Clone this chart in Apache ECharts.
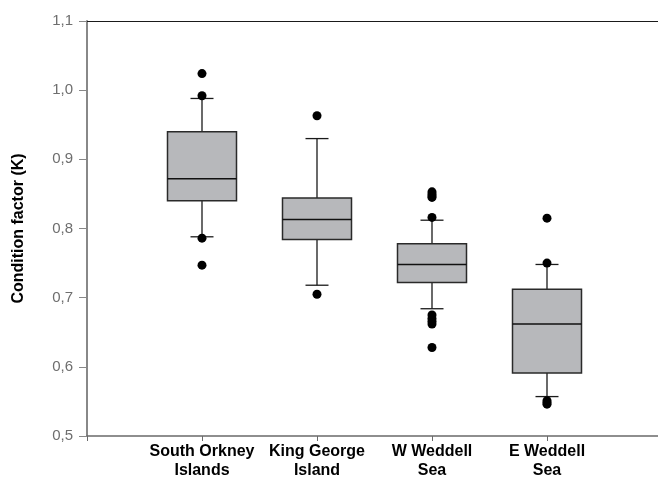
<!DOCTYPE html>
<html>
<head>
<meta charset="utf-8">
<script src="https://cdn.jsdelivr.net/npm/echarts@6/dist/echarts.min.js"></script>
<style>
  html, body { margin: 0; padding: 0; background: #fff; }
  #chart { width: 658px; height: 480px; }
</style>
</head>
<body>
<div id="chart"></div>
<script>
// Sampling regions (positions 1..4 on the x axis)
const categories = ['South Orkney\nIslands', 'King George\nIsland', 'W Weddell\nSea', 'E Weddell\nSea'];

// Box plot statistics of condition factor K per region
const whiskerLow  = [0.788, 0.718, 0.684, 0.557];
const quartile1   = [0.840, 0.784, 0.722, 0.591];
const medians     = [0.872, 0.813, 0.748, 0.662];
const quartile3   = [0.940, 0.844, 0.778, 0.712];
const whiskerHigh = [0.988, 0.930, 0.812, 0.748];

// Individual outlying fish
const outliersSouthOrkney = [1.024, 0.992, 0.786, 0.747];
const outliersKingGeorge  = [0.963, 0.705];
const outliersWWeddell    = [0.853, 0.850, 0.847, 0.845, 0.816, 0.675, 0.670, 0.666, 0.662, 0.628];
const outliersEWeddell    = [0.815, 0.750, 0.551, 0.548, 0.546];

// Y axis ticks
const yTicks = [0.5, 0.6, 0.7, 0.8, 0.9, 1.0, 1.1];

const outlierGroups = [outliersSouthOrkney, outliersKingGeorge, outliersWWeddell, outliersEWeddell];

const boxData = categories.map((c, i) => [i + 1, whiskerLow[i], quartile1[i], medians[i], quartile3[i], whiskerHigh[i]]);
const outlierData = [];
outlierGroups.forEach((g, i) => g.forEach(v => outlierData.push([i + 1, v])));

const BOX_W = 69;
const CAP_W = 23;
const LINE = '#1a1a1a';

function renderBox(params, api) {
  const x = api.value(0);
  const pLow = api.coord([x, api.value(1)]);
  const pQ1 = api.coord([x, api.value(2)]);
  const pMed = api.coord([x, api.value(3)]);
  const pQ3 = api.coord([x, api.value(4)]);
  const pHigh = api.coord([x, api.value(5)]);
  const cx = pQ1[0];
  const lineStyle = { stroke: LINE, lineWidth: 1.3 };
  return {
    type: 'group',
    children: [
      { type: 'line', shape: { x1: cx, y1: pQ3[1], x2: cx, y2: pHigh[1] }, style: lineStyle },
      { type: 'line', shape: { x1: cx, y1: pQ1[1], x2: cx, y2: pLow[1] }, style: lineStyle },
      { type: 'line', shape: { x1: cx - CAP_W / 2, y1: pHigh[1], x2: cx + CAP_W / 2, y2: pHigh[1] }, style: lineStyle },
      { type: 'line', shape: { x1: cx - CAP_W / 2, y1: pLow[1], x2: cx + CAP_W / 2, y2: pLow[1] }, style: lineStyle },
      {
        type: 'rect',
        shape: { x: cx - BOX_W / 2, y: pQ3[1], width: BOX_W, height: pQ1[1] - pQ3[1] },
        style: { fill: '#b7b8bb', stroke: '#2a2a2a', lineWidth: 1.5 }
      },
      { type: 'line', shape: { x1: cx - BOX_W / 2, y1: pMed[1], x2: cx + BOX_W / 2, y2: pMed[1] }, style: { stroke: '#111', lineWidth: 1.5 } }
    ]
  };
}

const chart = echarts.init(document.getElementById('chart'), null, { renderer: 'canvas' });
chart.setOption({
  backgroundColor: '#ffffff',
  animation: false,
  grid: { left: 87, right: -4, top: 21, bottom: 44, containLabel: false, outerBoundsMode: 'none' },
  xAxis: [
    {
      type: 'value',
      min: 0,
      max: 5,
      interval: 1,
      position: 'bottom',
      splitLine: { show: false },
      axisLine: { lineStyle: { color: '#6a6a6a', width: 1.5 } },
      axisTick: { inside: false, length: 5, lineStyle: { color: '#6a6a6a', width: 1 } },
      axisLabel: {
        margin: 6,
        fontFamily: 'Liberation Sans, Arial, sans-serif',
        fontSize: 16,
        fontWeight: 'bold',
        color: '#000',
        lineHeight: 19,
        formatter: v => (v >= 1 && v <= categories.length && Number.isInteger(v)) ? categories[v - 1] : ''
      }
    },
    {
      type: 'value',
      min: 0,
      max: 5,
      position: 'top',
      splitLine: { show: false },
      axisLine: { lineStyle: { color: '#1a1a1a', width: 1.2 } },
      axisTick: { show: false },
      axisLabel: { show: false }
    }
  ],
  yAxis: {
    type: 'value',
    min: yTicks[0],
    max: yTicks[yTicks.length - 1],
    interval: 0.1,
    name: 'Condition factor (K)',
    nameLocation: 'middle',
    nameGap: 60,
    nameTextStyle: {
      fontFamily: 'Liberation Sans, Arial, sans-serif',
      fontSize: 16,
      fontWeight: 'bold',
      color: '#000'
    },
    splitLine: { show: false },
    axisLine: { show: true, lineStyle: { color: '#888', width: 2 } },
    axisTick: { show: true, inside: false, length: 8, lineStyle: { color: '#888', width: 1 } },
    axisLabel: {
      margin: 14,
      fontFamily: 'Liberation Sans, Arial, sans-serif',
      fontSize: 15,
      color: '#6e6e6e',
      formatter: v => v.toFixed(1).replace('.', ',')
    }
  },
  series: [
    {
      type: 'custom',
      renderItem: renderBox,
      encode: { x: 0, y: [1, 2, 3, 4, 5] },
      data: boxData,
      z: 2
    },
    {
      type: 'scatter',
      data: outlierData,
      symbol: 'circle',
      symbolSize: 9,
      itemStyle: { color: '#000', opacity: 1 },
      z: 3
    }
  ]
});
</script>
</body>
</html>
